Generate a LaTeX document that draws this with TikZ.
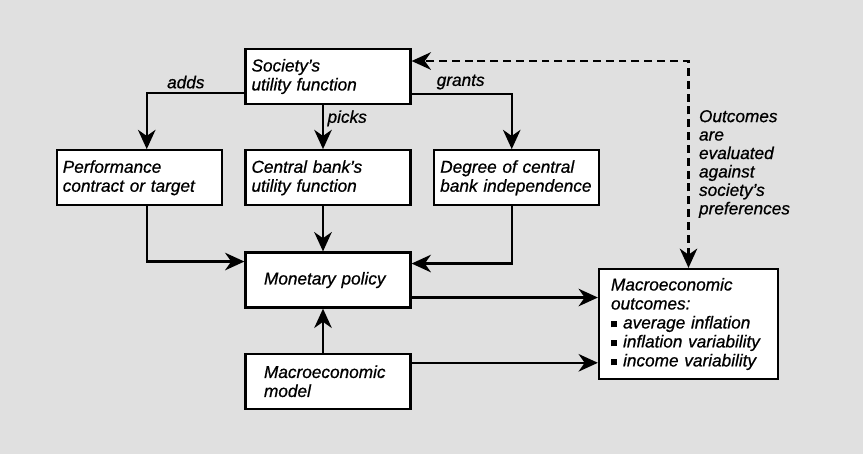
\documentclass[tikz,border=0pt]{standalone}
\usepackage{fontspec}
\setmainfont{Liberation Sans}[FakeBold=0.7, ItalicFeatures={FakeBold=0.7}]
\usetikzlibrary{positioning,arrows.meta}

\tikzset{
  box/.style={draw, line width=1.3pt, fill=white, align=left, text width=3.06cm,
    inner xsep=0.12cm, minimum height=1.1cm},
  wide/.style={text width=2.56cm, inner xsep=0.37cm},
  lbl/.style={inner sep=2pt},
}
\newcommand{\sqbullet}{\rule[0.6pt]{3.6pt}{3.6pt}\ }

\begin{document}
\begin{tikzpicture}[x=0.02cm, y=-0.02cm, node distance=0.88cm and 0.43cm,
    >={Stealth[length=11pt,width=10pt,inset=3.5pt]}, line width=1.2pt,
    font=\fontsize{9.8pt}{10.8pt}\selectfont\itshape]
    \fill[black!12] (0,0) rectangle (863,454);

    \node[box] (soc) at (328,76.5) {Society's\\utility function};
    \node[box, below=of soc] (cb) {Central bank's\\utility function};
    \node[box, left=of cb] (perf) {Performance\\contract or target};
    \node[box, right=of cb] (deg) {Degree of central\\bank independence};
    \node[box, wide, below=0.9cm of cb] (mon) {Monetary policy};
    \node[box, wide, below=of mon] (mod) {Macroeconomic\\model};
    \node[box, text width=3.1cm, inner xsep=0.24cm, minimum height=2.2cm] (outc) at (688.5,324)
      {Macroeconomic\\outcomes:\\\sqbullet average inflation\\\sqbullet inflation variability\\\sqbullet income variability};
    \node[align=left, anchor=west, inner sep=0pt,
      font=\fontsize{9.8pt}{10.5pt}\selectfont\itshape] (eval) at (698,164)
      {Outcomes\\are\\evaluated\\against\\society's\\preferences};

    \draw[->] ([yshift=-0.33cm]soc.west) -| node[pos=0.3, above, lbl] {adds} ([xshift=0.15cm]perf.north);
    \draw[->] ([xshift=-0.1cm]soc.south) -- node[pos=0.3, right, lbl] {picks} ([xshift=-0.1cm]cb.north);
    \draw[->] ([yshift=-0.35cm]soc.east) -| node[pos=0.245, above, lbl] {grants} ([xshift=-0.1cm]deg.north);
    \draw[->] ([xshift=0.15cm]perf.south) |- ([yshift=0.37cm]mon.west);
    \draw[->] ([xshift=-0.1cm]cb.south) -- ([xshift=-0.1cm]mon.north);
    \draw[->] ([xshift=-0.1cm]deg.south) |- ([yshift=0.33cm]mon.east);
    \draw[->] ([xshift=-0.1cm]mod.north) -- ([xshift=-0.1cm]mon.south);
    \draw[->] ([yshift=-0.35cm]mon.east) -- ([yshift=-0.35cm]mon.east -| outc.west);
    \draw[->] ([yshift=0.37cm]mod.east) -- ([yshift=0.37cm]mod.east -| outc.west);
    \draw[<->, dash pattern=on 4.5pt off 2.8pt] (outc.north) |- ([yshift=0.31cm]soc.east);
\end{tikzpicture}
\end{document}
